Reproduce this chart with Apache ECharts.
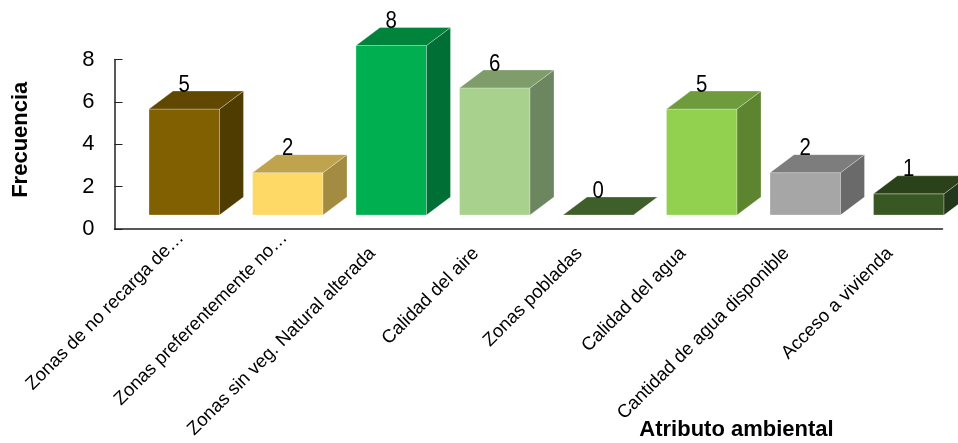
<!DOCTYPE html>
<html><head><meta charset="utf-8">
<style>html,body{margin:0;padding:0;background:#fff}#c{width:958px;height:443px}</style>
<script src="https://cdn.jsdelivr.net/npm/echarts@6/dist/echarts.min.js"></script>
</head><body><div id="c"></div>
<script>
const categories = ['Zonas de no recarga de…','Zonas preferentemente no…','Zonas sin veg. Natural alterada','Calidad del aire','Zonas pobladas','Calidad del agua','Cantidad de agua disponible','Acceso a vivienda'];
const values = [5,2,8,6,0,5,2,1];
const yTicks = {min:0,max:8,interval:2};
const frontColors = ['#806000','#ffd966','#00b050','#a9d18e','#3f5f2a','#92d050','#a6a6a6','#385723'];
const topColors   = ['#604800','#bfa34d','#00843c','#7f9d6a','#3f5f2a','#6e9c3c','#7d7d7d','#2a4119'];
const sideColors  = ['#4f3c00','#a38b42','#006f35','#6c8660','#3f5f2a','#5d8530','#6a6a6a','#23371a'];
const SANS = '"Liberation Sans",Arial,sans-serif';
const SHIFT=18, LIFT=14, W=70.5, DX=24, DY=18;
const edge='rgba(255,255,255,0.28)';
function renderBar(params, api){
  const i=api.value(0), v=api.value(1);
  const c0=api.coord([i,0]), c1=api.coord([i,v]);
  const l=c0[0]+SHIFT-W/2, r=l+W, b=c0[1]-LIFT, t=c1[1]-LIFT;
  const face=(pts,fill)=>({type:'polygon',shape:{points:pts},style:{fill,stroke:edge,lineWidth:1}});
  const kids=[];
  if(v>0){
    kids.push(face([[l,b],[r,b],[r,t],[l,t]],frontColors[i]));
    kids.push(face([[r,b],[r+DX,b-DY],[r+DX,t-DY],[r,t]],sideColors[i]));
  }
  kids.push(face([[l,t],[r,t],[r+DX,t-DY],[l+DX,t-DY]],topColors[i]));
  const lx=(l+r)/2, ly=t-DY+6;
  kids.push({type:'text',x:lx,y:ly,scaleX:0.85,style:{text:String(v),x:0,y:0,align:'center',verticalAlign:'bottom',font:'24px '+SANS,fill:'#000'}});
  return {type:'group',children:kids};
}
const chart=echarts.init(document.getElementById('c'),null,{renderer:'canvas'});
chart.setOption({
  animation:false,
  backgroundColor:'#fff',
  grid:{left:114.5,right:15.5,top:59.5,bottom:214,outerBoundsMode:'none'},
  xAxis:{type:'category',data:categories,
    name:'Atributo ambiental',nameLocation:'middle',nameGap:190,nameMoveOverlap:false,
    nameTextStyle:{color:'#000',padding:[0,0,0,416],fontFamily:SANS,fontWeight:'bold',fontSize:22},
    axisLine:{lineStyle:{color:'#222',width:1.5}},
    axisTick:{inside:true,length:7,lineStyle:{color:'#222',width:1}},
    axisLabel:{interval:0,rotate:45,margin:-13,color:'#000',padding:[48,0,0,0],
      formatter:v=>(v.endsWith('…')?'{e|'+v+'}':'{n|'+v+'}'),
      rich:{e:{fontFamily:SANS,fontSize:18.5,color:'#000',padding:[0,3,0,0]},n:{fontFamily:SANS,fontSize:18.5,color:'#000',padding:[0,25,0,0]}}}},
  yAxis:{type:'value',min:yTicks.min,max:yTicks.max,interval:yTicks.interval,
    name:'Frecuencia',nameLocation:'middle',nameGap:83,nameMoveOverlap:false,
    nameTextStyle:{fontFamily:SANS,fontWeight:'bold',fontSize:22,color:'#000',padding:[0,0,0,9]},
    splitLine:{show:false},
    axisLine:{show:true,lineStyle:{color:'#222',width:1.5}},
    axisTick:{show:true,inside:true,length:8,lineStyle:{color:'#222',width:1}},
    axisLabel:{fontFamily:SANS,fontSize:22,color:'#000',margin:20}},
  series:[{type:'custom',renderItem:renderBar,clip:false,data:values.map((v,i)=>[i,v]),encode:{x:0,y:1}}]
});
</script></body></html>
